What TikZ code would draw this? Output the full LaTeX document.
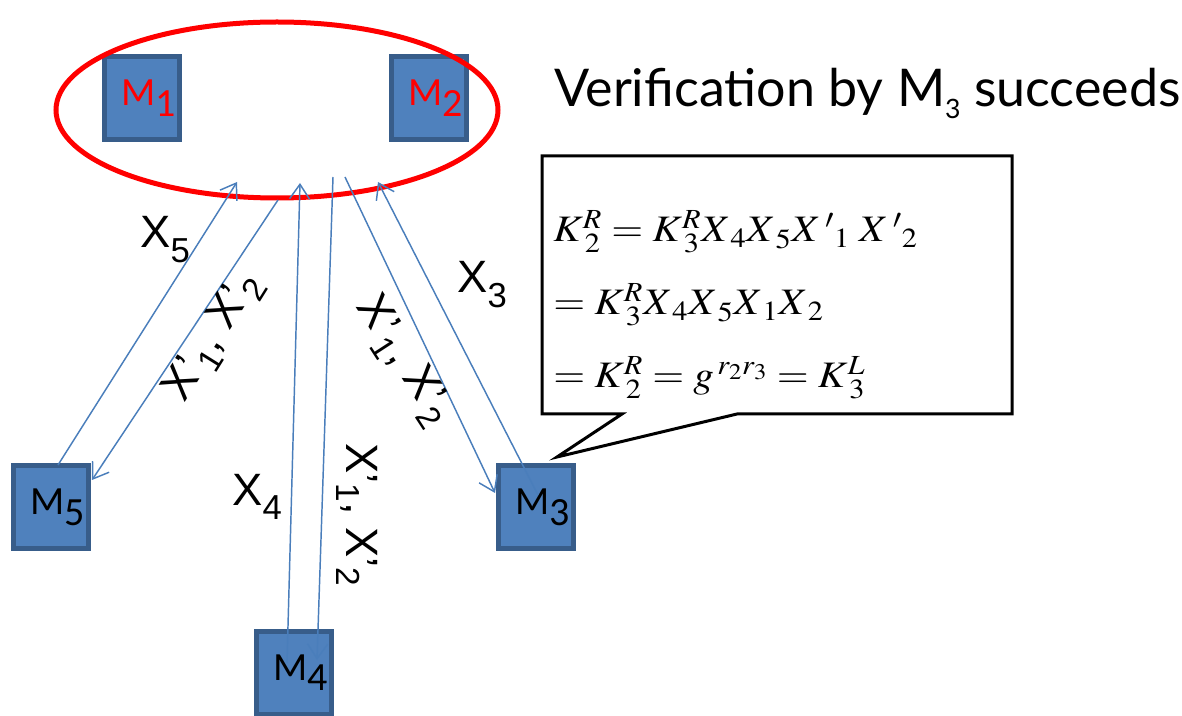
\documentclass[tikz,border=0pt]{standalone}
\usepackage{mathptmx}
\usepackage[no-math]{fontspec}
\usetikzlibrary{arrows.meta,shapes.geometric}
\newfontfamily\boxfont{Carlito}
\newfontfamily\labfont{Liberation Sans}
\newfontfamily\headfont{Lato}
\definecolor{boxfill}{HTML}{4F81BD}
\definecolor{boxedge}{HTML}{385D8A}
\definecolor{wire}{HTML}{4A7EBB}
% lowered index of a given size: size, drop, text
\newcommand\lowsub[3]{\raisebox{-#2}{\fontsize{#1}{#1}\selectfont #3}}
% widened formula line
\newcommand\wideeq[1]{\scalebox{1.1}[1]{$#1$}}
% index set a little apart from its base
\newcommand\ix[1]{_{\hspace{3.5pt}#1}}

\begin{document}
\begin{tikzpicture}[x=0.75pt,y=-0.75pt,
  mbox/.style={draw=boxedge, fill=boxfill, line width=3.75pt,
    minimum width=56.25pt, minimum height=62.25pt, inner sep=0pt,
    font=\boxfont\fontsize{30pt}{30pt}\selectfont},
  msg/.style={draw=wire, line width=1.1pt,
    -{Straight Barb[length=11pt,width=15pt]}},
  xlab/.style={font=\labfont\fontsize{34pt}{34pt}\selectfont,
    anchor=base west, inner sep=0pt},
  rlab/.style={font=\labfont\fontsize{34pt}{34pt}\selectfont, inner sep=0pt},
  eqn/.style={font=\fontsize{28pt}{32pt}\selectfont, anchor=base west, inner sep=0pt}]
\useasboundingbox (0,0) rectangle (1182,716);

% machines
\node[mbox, text=red] (m1) at (142,98.5) {\hspace*{10.5pt}M\lowsub{30pt}{8pt}{1}};
\node[mbox, text=red] (m2) at (429,98.5) {\hspace*{10.5pt}M\lowsub{30pt}{8pt}{2}};
\node[mbox] (m5) at (51,507) {\hspace*{10.5pt}M\lowsub{30pt}{8pt}{5}};
\node[mbox] (m3) at (536,507) {\hspace*{10.5pt}M\lowsub{30pt}{8pt}{3}};
\node[mbox] (m4) at (294,672.5) {\hspace*{10.5pt}M\lowsub{30pt}{8pt}{4}};

% group of M1 and M2
\node[ellipse, draw=red, line width=3.75pt, minimum width=331.5pt,
  minimum height=132pt, inner sep=0pt] (ring) at (277,110) {};

% message end points
\coordinate (r5) at (237,182);
\coordinate (rx5) at (278,200);
\coordinate (r4) at (300,183);
\coordinate (rx4) at (333,177);
\coordinate (rx3) at (345,177);
\coordinate (r3) at (378,182);
\coordinate (s5) at (58,465);
\coordinate (t5) at (92,480);
\coordinate (s4) at (287,663);
\coordinate (t4) at (317,660);
\coordinate (t3) at (495,493);
\coordinate (s3) at (538,495);

\draw[msg] (s5) -- (r5);
\draw[msg] (rx5) -- (t5);
\draw[msg] (s4) -- (r4);
\draw[msg] (rx4) -- (t4);
\draw[msg] (rx3) -- (t3);
\draw[msg] (s3) -- (r3);

% message labels
\node[xlab] (x5) at (140,248) {X\lowsub{26pt}{11pt}{5}};
\node[xlab] (x3) at (457,293) {X\lowsub{26pt}{11pt}{3}};
\node[xlab] (x4) at (232,505) {X\lowsub{26pt}{11pt}{4}};
\node[rlab, rotate=58] (p5) at (214,337) {X’\lowsub{25pt}{8pt}{1}, X’\lowsub{25pt}{8pt}{2}};
\node[rlab, rotate=-57] (p3) at (403,361) {X’\lowsub{25pt}{8pt}{1}, X’\lowsub{25pt}{8pt}{2}};
\node[rlab, rotate=-90] (p4) at (357,515) {X’\lowsub{25pt}{8pt}{1}, X’\lowsub{25pt}{8pt}{2}};

% heading
\node[anchor=base west, inner sep=0pt, font=\headfont\fontsize{39pt}{39pt}\selectfont]
  (head) at (554,107) {Verification by M\lowsub{20pt}{9pt}{3} succeeds};

% speech bubble of M3
\draw[line width=2.25pt, fill=white] (542,156) -- (1012,156) -- (1012,414)
  -- (737,414) -- (557,457) -- (622,414) -- (542,414) -- cycle;
\node[eqn] (e1) at (553,242)
  {\wideeq{K\ix2^R = K\ix3^R X\ix4 X\ix5 X\,{}'{}_1\; X\,{}'{}_2}};
\node[eqn] (e2) at (553,315) {\wideeq{= K\ix3^R X\ix4 X\ix5 X\ix1 X\ix2}};
\node[eqn] (e3) at (553,388) {\wideeq{= K\ix2^R = g^{\,r_2 r_3} = K\ix3^L}};
\end{tikzpicture}
\end{document}
